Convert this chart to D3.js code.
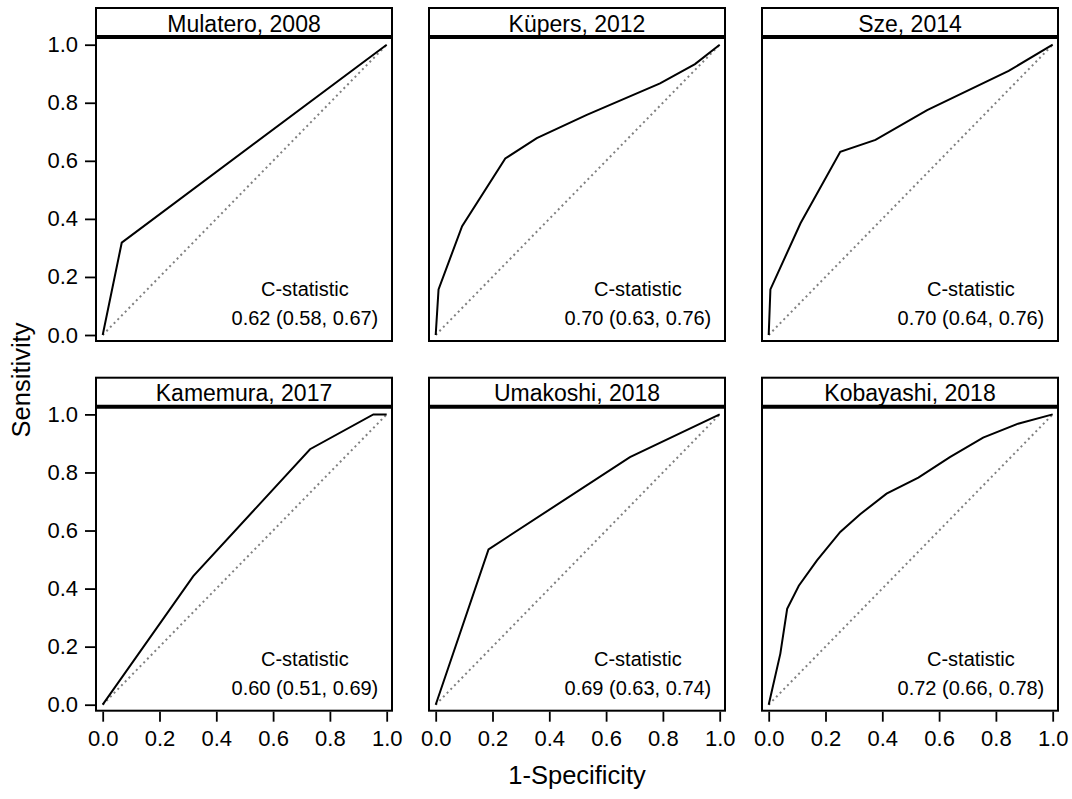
<!DOCTYPE html>
<html>
<head>
<meta charset="utf-8">
<script src="https://cdn.jsdelivr.net/npm/d3@7"></script>
<style>
  body { margin: 0; background: #fff; }
  text { font-family: "Liberation Sans", Arial, sans-serif; }
</style>
</head>
<body>
<script>
// study panels, in reading order
const studies = ["Mulatero, 2008", "Küpers, 2012", "Sze, 2014",
                 "Kamemura, 2017", "Umakoshi, 2018", "Kobayashi, 2018"];
const cStatistic = ["0.62 (0.58, 0.67)", "0.70 (0.63, 0.76)", "0.70 (0.64, 0.76)",
                    "0.60 (0.51, 0.69)", "0.69 (0.63, 0.74)", "0.72 (0.66, 0.78)"];

// ROC points: 1-specificity / sensitivity
const fprMulatero = [0, 0.067, 1];
const tprMulatero = [0, 0.318, 1];
const fprKupers = [0, 0.01, 0.093, 0.245, 0.356, 0.532, 0.79, 0.913, 1];
const tprKupers = [0, 0.157, 0.375, 0.608, 0.678, 0.758, 0.867, 0.933, 1];
const fprSze = [0, 0.006, 0.112, 0.252, 0.376, 0.558, 0.845, 1];
const tprSze = [0, 0.157, 0.385, 0.631, 0.672, 0.775, 0.91, 1];
const fprKamemura = [0, 0.319, 0.73, 0.953, 1];
const tprKamemura = [0, 0.443, 0.88, 1, 1];
const fprUmakoshi = [0, 0.186, 0.684, 1];
const tprUmakoshi = [0, 0.535, 0.853, 1];
const fprKobayashi = [0, 0.041, 0.065, 0.106, 0.17, 0.252, 0.322, 0.415, 0.527, 0.638, 0.755, 0.878, 1];
const tprKobayashi = [0, 0.176, 0.33, 0.41, 0.497, 0.595, 0.656, 0.727, 0.782, 0.853, 0.92, 0.968, 1];

const tickValues = [0, 0.2, 0.4, 0.6, 0.8, 1.0];

const rocX = [fprMulatero, fprKupers, fprSze, fprKamemura, fprUmakoshi, fprKobayashi];
const rocY = [tprMulatero, tprKupers, tprSze, tprKamemura, tprUmakoshi, tprKobayashi];

const width = 1072, height = 799;
const svg = d3.select("body").append("svg")
  .attr("width", width)
  .attr("height", height);

const frameW = 296, frameH = 304, stripH = 29;

studies.forEach(function(name, i) {
  const col = i % 3, row = Math.floor(i / 3);
  const left = 96 + col * 333;
  const top = 37 + row * 369.7;

  const x = d3.scaleLinear().domain([0, 1]).range([left + 6.7, left + 290.7]);
  const y = d3.scaleLinear().domain([0, 1]).range([top + 298, top + 7.7]);

  const g = svg.append("g");

  // header strip
  g.append("rect")
    .attr("x", left).attr("y", top - stripH)
    .attr("width", frameW).attr("height", stripH)
    .attr("fill", "white").attr("stroke", "black").attr("stroke-width", 2);
  g.append("line")
    .attr("x1", left - 1).attr("x2", left + frameW + 1)
    .attr("y1", top).attr("y2", top)
    .attr("stroke", "black").attr("stroke-width", 4);
  g.append("text")
    .attr("x", left + frameW / 2).attr("y", top - 5.5)
    .attr("text-anchor", "middle")
    .attr("font-size", "23px")
    .text(name);

  // plot frame
  g.append("rect")
    .attr("x", left).attr("y", top)
    .attr("width", frameW).attr("height", frameH)
    .attr("fill", "none").attr("stroke", "black").attr("stroke-width", 2);

  // reference diagonal
  g.append("line")
    .attr("x1", x(0)).attr("y1", y(0))
    .attr("x2", x(1)).attr("y2", y(1))
    .attr("stroke", "#808080").attr("stroke-width", 2)
    .attr("stroke-dasharray", "2,3.3");

  const pts = rocX[i].map(function(v, j) { return [v, rocY[i][j]]; });
  g.append("path")
    .datum(pts)
    .attr("fill", "none")
    .attr("stroke", "black")
    .attr("stroke-width", 2)
    .attr("d", d3.line().x(d => x(d[0])).y(d => y(d[1])));

  // C-statistic label
  const cx = x(0.712);
  g.append("text")
    .attr("x", cx).attr("y", y(0.134))
    .attr("text-anchor", "middle")
    .attr("font-size", "20px")
    .text("C-statistic");
  g.append("text")
    .attr("x", cx).attr("y", y(0.034))
    .attr("text-anchor", "middle")
    .attr("font-size", "20px")
    .text(cStatistic[i]);

  if (col === 0) {
    const ax = g.append("g")
      .attr("transform", "translate(" + (left - 1) + ",0)")
      .call(d3.axisLeft(y).tickValues(tickValues).tickFormat(d3.format(".1f")).tickSize(10).tickPadding(7));
    ax.select(".domain").remove();
    ax.selectAll("line").attr("stroke-width", 1.8);
    ax.selectAll("text").attr("font-size", "22px").attr("fill", "black")
      .style("font-family", "'Liberation Sans', Arial, sans-serif");
  }
  if (row === 1) {
    const ax = g.append("g")
      .attr("transform", "translate(0," + (top + frameH + 1) + ")")
      .call(d3.axisBottom(x).tickValues(tickValues).tickFormat(d3.format(".1f")).tickSize(10).tickPadding(9));
    ax.select(".domain").remove();
    ax.selectAll("line").attr("stroke-width", 1.8);
    ax.selectAll("text").attr("font-size", "22px").attr("fill", "black")
      .style("font-family", "'Liberation Sans', Arial, sans-serif");
  }
});

svg.append("text")
  .attr("x", 577).attr("y", 784)
  .attr("text-anchor", "middle")
  .attr("font-size", "25.5px")
  .text("1-Specificity");

svg.append("text")
  .attr("transform", "translate(30,380) rotate(-90)")
  .attr("text-anchor", "middle")
  .attr("font-size", "25.5px")
  .text("Sensitivity");
</script>
</body>
</html>
